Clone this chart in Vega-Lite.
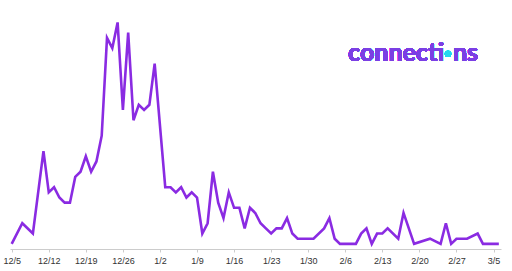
{
  "$schema": "https://vega.github.io/schema/vega-lite/v6.json",
  "width": 491,
  "height": 249,
  "autosize": {"type": "none"},
  "padding": {"left": 10, "top": 0, "right": 11, "bottom": 22},
  "background": "white",
  "config": {"view": {"stroke": null}, "axis": {"labelOverlap": false, "labelBound": false}},
  "data": {
    "format": {"parse": {"date": "date:'%Y-%m-%d'"}},
    "values": [
      {"date": "2023-12-05", "count": 1},
      {"date": "2023-12-07", "count": 5},
      {"date": "2023-12-09", "count": 3},
      {"date": "2023-12-11", "count": 19},
      {"date": "2023-12-12", "count": 11},
      {"date": "2023-12-13", "count": 12},
      {"date": "2023-12-14", "count": 10},
      {"date": "2023-12-15", "count": 9},
      {"date": "2023-12-16", "count": 9},
      {"date": "2023-12-17", "count": 14},
      {"date": "2023-12-18", "count": 15},
      {"date": "2023-12-19", "count": 18},
      {"date": "2023-12-20", "count": 15},
      {"date": "2023-12-21", "count": 17},
      {"date": "2023-12-22", "count": 22},
      {"date": "2023-12-23", "count": 41},
      {"date": "2023-12-24", "count": 39},
      {"date": "2023-12-25", "count": 44},
      {"date": "2023-12-26", "count": 27},
      {"date": "2023-12-27", "count": 42},
      {"date": "2023-12-28", "count": 25},
      {"date": "2023-12-29", "count": 28},
      {"date": "2023-12-30", "count": 27},
      {"date": "2023-12-31", "count": 28},
      {"date": "2024-01-01", "count": 36},
      {"date": "2024-01-03", "count": 12},
      {"date": "2024-01-04", "count": 12},
      {"date": "2024-01-05", "count": 11},
      {"date": "2024-01-06", "count": 12},
      {"date": "2024-01-07", "count": 10},
      {"date": "2024-01-08", "count": 11},
      {"date": "2024-01-09", "count": 10},
      {"date": "2024-01-10", "count": 3},
      {"date": "2024-01-11", "count": 5},
      {"date": "2024-01-12", "count": 15},
      {"date": "2024-01-13", "count": 9},
      {"date": "2024-01-14", "count": 6},
      {"date": "2024-01-15", "count": 11},
      {"date": "2024-01-16", "count": 8},
      {"date": "2024-01-17", "count": 8},
      {"date": "2024-01-18", "count": 4},
      {"date": "2024-01-19", "count": 8},
      {"date": "2024-01-20", "count": 7},
      {"date": "2024-01-21", "count": 5},
      {"date": "2024-01-22", "count": 4},
      {"date": "2024-01-23", "count": 3},
      {"date": "2024-01-24", "count": 4},
      {"date": "2024-01-25", "count": 4},
      {"date": "2024-01-26", "count": 6},
      {"date": "2024-01-27", "count": 3},
      {"date": "2024-01-28", "count": 2},
      {"date": "2024-01-31", "count": 2},
      {"date": "2024-02-02", "count": 4},
      {"date": "2024-02-03", "count": 6},
      {"date": "2024-02-04", "count": 2},
      {"date": "2024-02-05", "count": 1},
      {"date": "2024-02-08", "count": 1},
      {"date": "2024-02-09", "count": 3},
      {"date": "2024-02-10", "count": 4},
      {"date": "2024-02-11", "count": 1},
      {"date": "2024-02-12", "count": 3},
      {"date": "2024-02-13", "count": 3},
      {"date": "2024-02-14", "count": 4},
      {"date": "2024-02-16", "count": 2},
      {"date": "2024-02-17", "count": 7},
      {"date": "2024-02-19", "count": 1},
      {"date": "2024-02-22", "count": 2},
      {"date": "2024-02-24", "count": 1},
      {"date": "2024-02-25", "count": 5},
      {"date": "2024-02-26", "count": 1},
      {"date": "2024-02-27", "count": 2},
      {"date": "2024-02-29", "count": 2},
      {"date": "2024-03-02", "count": 3},
      {"date": "2024-03-03", "count": 1},
      {"date": "2024-03-06", "count": 1}
    ]
  },
  "layer": [
    {
      "mark": {"type": "line", "color": "#8a2be2", "strokeWidth": 2.6, "clip": false},
      "encoding": {
        "x": {
          "field": "date",
          "type": "temporal",
          "scale": {"domain": [
            {"year": 2023, "month": 12, "date": 4, "hours": 16, "minutes": 18},
            {"year": 2024, "month": 3, "date": 6, "hours": 9, "minutes": 50}
          ]},
          "axis": {
            "title": null,
            "format": "%-m/%-d",
            "tickCount": 30,
            "values": [
              {"year": 2023, "month": 12, "date": 5},
              {"year": 2023, "month": 12, "date": 12},
              {"year": 2023, "month": 12, "date": 19},
              {"year": 2023, "month": 12, "date": 26},
              {"year": 2024, "month": 1, "date": 2},
              {"year": 2024, "month": 1, "date": 9},
              {"year": 2024, "month": 1, "date": 16},
              {"year": 2024, "month": 1, "date": 23},
              {"year": 2024, "month": 1, "date": 30},
              {"year": 2024, "month": 2, "date": 6},
              {"year": 2024, "month": 2, "date": 13},
              {"year": 2024, "month": 2, "date": 20},
              {"year": 2024, "month": 2, "date": 27},
              {"year": 2024, "month": 3, "date": 5}
            ],
            "grid": false,
            "domainColor": "#cccccc",
            "tickColor": "#cccccc",
            "tickSize": 3,
            "labelFont": "Liberation Sans",
            "labelFontSize": 9,
            "labelColor": "#333333",
            "labelPadding": 4,
            "labelFlush": false,
            "labelOverlap": false,
            "labelSeparation": 0
          }
        },
        "y": {
          "field": "count",
          "type": "quantitative",
          "scale": {"domain": [0, 48.35], "nice": false, "zero": true},
          "axis": null
        }
      }
    },
    {
      "mark": {"type": "text", "text": "connecti", "align": "right", "baseline": "alphabetic", "dx": -4, "dy": 7, "font": "Lato", "fontSize": 25, "fontWeight": "bold", "color": "#7b3fe4"},
      "encoding": {
        "x": {"datum": {"year": 2024, "month": 2, "date": 25, "hours": 9, "minutes": 36}, "type": "temporal"},
        "y": {"datum": 37.9, "type": "quantitative"}
      }
    },
    {
      "mark": {"type": "text", "text": "ns", "align": "left", "baseline": "alphabetic", "dx": 5, "dy": 7, "font": "Lato", "fontSize": 25, "fontWeight": "bold", "color": "#7b3fe4"},
      "encoding": {
        "x": {"datum": {"year": 2024, "month": 2, "date": 25, "hours": 9, "minutes": 36}, "type": "temporal"},
        "y": {"datum": 37.9, "type": "quantitative"}
      }
    },
    {
      "mark": {"type": "point", "shape": "circle", "filled": true, "size": 40, "color": "#22d8ee", "opacity": 1},
      "encoding": {
        "x": {"datum": {"year": 2024, "month": 2, "date": 25, "hours": 9, "minutes": 36}, "type": "temporal"},
        "y": {"datum": 37.9, "type": "quantitative"}
      }
    }
  ]
}
